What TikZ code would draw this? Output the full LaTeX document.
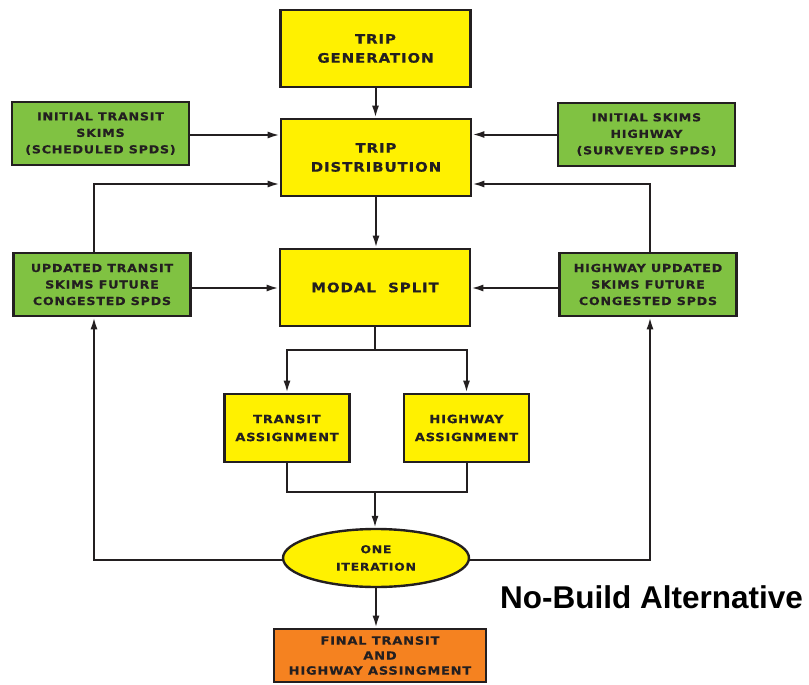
\documentclass[tikz,border=0pt]{standalone}
\usepackage{fontspec}
\usetikzlibrary{arrows.meta,shapes.geometric,calc}
\newfontfamily\boxfont[LetterSpace=7,FakeStretch=1.15,FakeBold=0.6]{DejaVu Sans}
\newfontfamily\labelfont{Liberation Sans}
\definecolor{boxyellow}{HTML}{FFF100}
\definecolor{boxgreen}{HTML}{80C242}
\definecolor{boxorange}{HTML}{F58220}
\definecolor{ink}{HTML}{231F20}
\begin{document}
\begin{tikzpicture}[x=1pt,y=-1pt,
  stage/.style={draw=ink, line width=2.7pt, fill=boxyellow, align=center,
    inner sep=0pt, text=ink},
  bigstage/.style={stage, minimum width=190pt, minimum height=77pt,
    font={\boxfont\bfseries\fontsize{13}{19}\selectfont}},
  smallstage/.style={stage, minimum width=125pt, minimum height=68pt,
    font={\boxfont\bfseries\fontsize{11.3}{18}\selectfont}},
  skims/.style={stage, fill=boxgreen, minimum width=177pt, minimum height=63pt,
    font={\boxfont\bfseries\fontsize{11}{16.5}\selectfont}},
  loopnode/.style={stage, ellipse, line width=2.4pt, minimum width=186pt,
    minimum height=58pt, font={\boxfont\bfseries\fontsize{10.8}{17.5}\selectfont}},
  result/.style={stage, fill=boxorange, minimum width=212pt, minimum height=53pt,
    font={\boxfont\bfseries\fontsize{11.3}{15}\selectfont}},
  link/.style={draw=ink, line width=2pt},
  flow/.style={link, -{Latex[length=12pt,width=7pt]}}]
\useasboundingbox (0,0) rectangle (809,685);

% process stages
\node[bigstage] (gen) at (375.5,48.5) {TRIP\\GENERATION};
\node[bigstage] (dist) at (376,157.5) {TRIP\\DISTRIBUTION};
\node[bigstage] (modal) at (375,287.5) {MODAL\ \ SPLIT};
\node[smallstage] (tas) at (287,428) {TRANSIT\\ASSIGNMENT};
\node[smallstage] (has) at (466.5,428) {HIGHWAY\\ASSIGNMENT};
\node[loopnode] (iter) at (376,558) {ONE\\ITERATION};
\node[result] (final) at (380,655.5) {FINAL TRANSIT\\AND\\HIGHWAY ASSINGMENT};

% skim inputs
\node[skims] (itr) at (100.5,133.5) {INITIAL TRANSIT\\SKIMS\\(SCHEDULED SPDS)};
\node[skims] (ihw) at (646.5,134.5) {INITIAL SKIMS\\HIGHWAY\\(SURVEYED SPDS)};
\node[skims] (utr) at (102,284.5) {UPDATED TRANSIT\\SKIMS FUTURE\\CONGESTED SPDS};
\node[skims] (uhw) at (648,284.5) {HIGHWAY UPDATED\\SKIMS FUTURE\\CONGESTED SPDS};

\node[anchor=base west, inner sep=0pt, text=black,
  font={\labelfont\bfseries\fontsize{31.5}{36}\selectfont}] (title) at (500,608)
  {No-Build Alternative};

% junction points
\coordinate (split) at (375,350);
\coordinate (merge) at (375,492);

% main chain
\draw[flow] (gen.south) -- (gen.south |- dist.north);
\draw[flow] (dist.south) -- (dist.south |- modal.north);
\draw[link] (modal.south) -- (split);
\draw[flow] (split) -| (tas.north);
\draw[flow] (split) -| (has.north);
\draw[link] (tas.south) |- (merge) -| (has.south);
\draw[flow] (merge) -- (merge |- iter.north);
\draw[flow] (iter.south) -- (iter.south |- final.north);

% skim inputs (canvas yshift is upward, so negative values move down)
\draw[flow] ([yshift=-1.5pt]itr.east) -- ([yshift=-1.5pt]itr.east -| dist.west);
\draw[flow] (ihw.west) -- (ihw.west -| dist.east);
\draw[flow] ([yshift=-3.5pt]utr.east) -- ([yshift=-3.5pt]utr.east -| modal.west);
\draw[flow] ([yshift=-3.5pt]uhw.west) -- ([yshift=-3.5pt]uhw.west -| modal.east);

% feedback loops
\draw[flow] ([yshift=-2pt]iter.west) -| ([xshift=-8pt]utr.south);
\draw[flow] ([yshift=-2pt]iter.east) -| ([xshift=2pt]uhw.south);
\draw[flow] ([xshift=-8pt]utr.north) |- ([yshift=-26.5pt]dist.west);
\draw[flow] ([xshift=2pt]uhw.north) |- ([yshift=-26.5pt]dist.east);
\end{tikzpicture}
\end{document}
